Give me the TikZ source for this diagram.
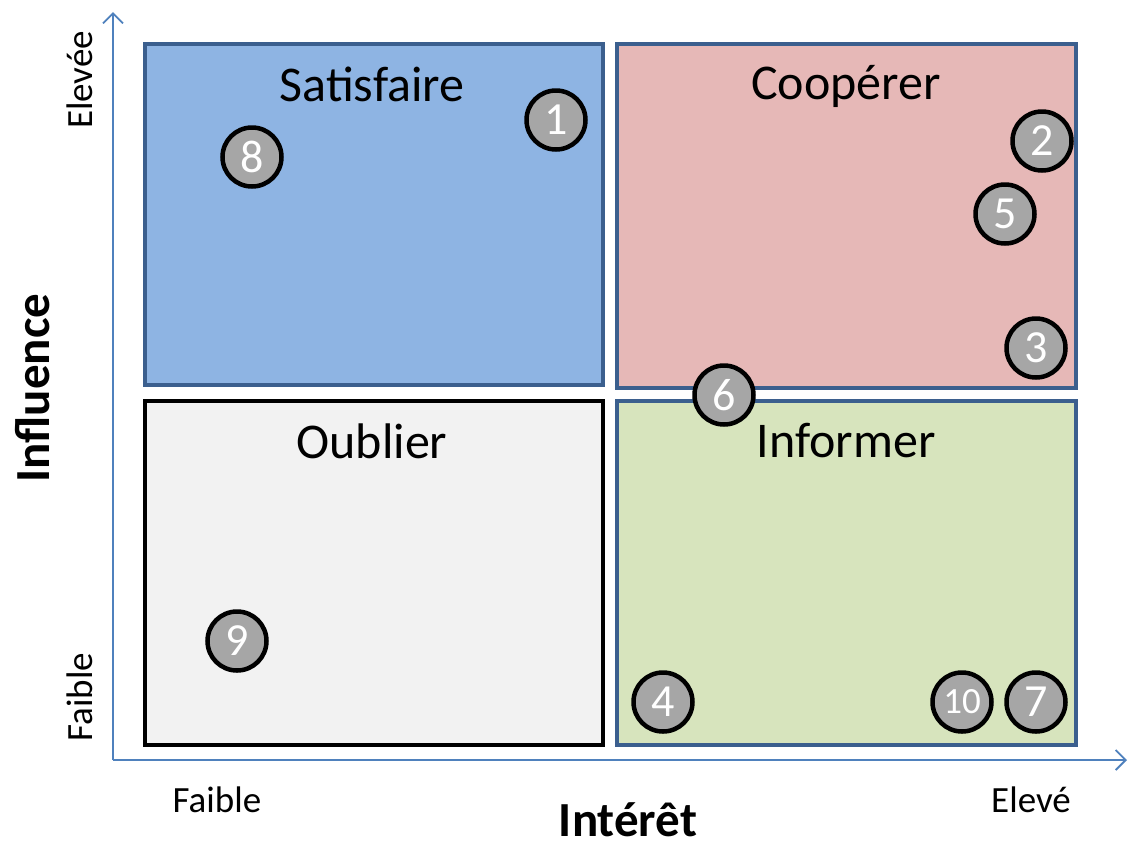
\documentclass[tikz,border=0pt]{standalone}
\usepackage{fontspec}
\setmainfont{Carlito}
\usetikzlibrary{arrows.meta}
\definecolor{axisblue}{HTML}{4F81BD}
\definecolor{frameblue}{HTML}{3B5F8E}
\definecolor{satfill}{HTML}{8EB4E3}
\definecolor{coopfill}{HTML}{E6B8B7}
\definecolor{oubfill}{HTML}{F2F2F2}
\definecolor{inffill}{HTML}{D7E4BD}
\definecolor{dotfill}{HTML}{A6A6A6}
\tikzset{
  quad/.style={draw=frameblue, line width=3.5pt},
  title/.style={font=\fontsize{50}{52}\selectfont, anchor=center},
  dot/.style={circle, draw=black, line width=4.5pt, fill=dotfill, minimum size=59pt, inner sep=0pt, text=white, font=\fontsize{46}{48}\selectfont},
  axis/.style={draw=axisblue, line width=1.8pt, -{Straight Barb[length=10pt,width=20pt,line width=1.8pt]}},
  lab/.style={font=\fontsize{37}{39}\selectfont},
  big/.style={font=\fontsize{49}{51}\selectfont\bfseries}
}
\begin{document}
\begin{tikzpicture}[x=1pt,y=-1pt]
\useasboundingbox (0,0) rectangle (1128,847);
% axes
\coordinate (O) at (113,760);
\coordinate (ytop) at (113,12);
\coordinate (xend) at (1127,760);
\draw[axis] (O) -- (ytop);
\draw[axis] (O) -- (xend);
% quadrants
\path[quad, fill=satfill] (145,44) rectangle (603,385);
\path[quad, fill=coopfill] (617,44) rectangle (1076,388);
\path[quad, draw=black, fill=oubfill] (145,401) rectangle (603,745);
\path[quad, fill=inffill] (617,401) rectangle (1076,745);
\node[title] (tsat) at (372,84) {Satisfaire};
\node[title] (tcoop) at (846,86) {Coopérer};
\node[title] (toub) at (372,441) {Oublier};
\node[title] (tinf) at (846,441) {Informer};
% dots
\node[dot] (d1) at (556,120) {1};
\node[dot] (d8) at (252,157) {8};
\node[dot] (d2) at (1042,141) {2};
\node[dot] (d5) at (1005,214) {5};
\node[dot] (d3) at (1036,348) {3};
\node[dot] (d6) at (724,395) {6};
\node[dot] (d9) at (237,641) {9};
\node[dot] (d4) at (663,702) {4};
\node[dot, font=\fontsize{37}{39}\selectfont] (d10) at (962,702) {10};
\node[dot] (d7) at (1036,702) {7};
% labels
\node[lab, rotate=90] (yhigh) at (80,80) {Elevée};
\node[lab, rotate=90] (ylow) at (80,697) {Faible};
\node[lab] (xlow) at (217,800) {Faible};
\node[lab] (xhigh) at (1031,800) {Elevé};
\node[big, inner sep=0pt] (xtitle) at (628,820) {Intérêt};
\node[big, rotate=90] (ytitle) at (33,388) {Influence};
\end{tikzpicture}
\end{document}
